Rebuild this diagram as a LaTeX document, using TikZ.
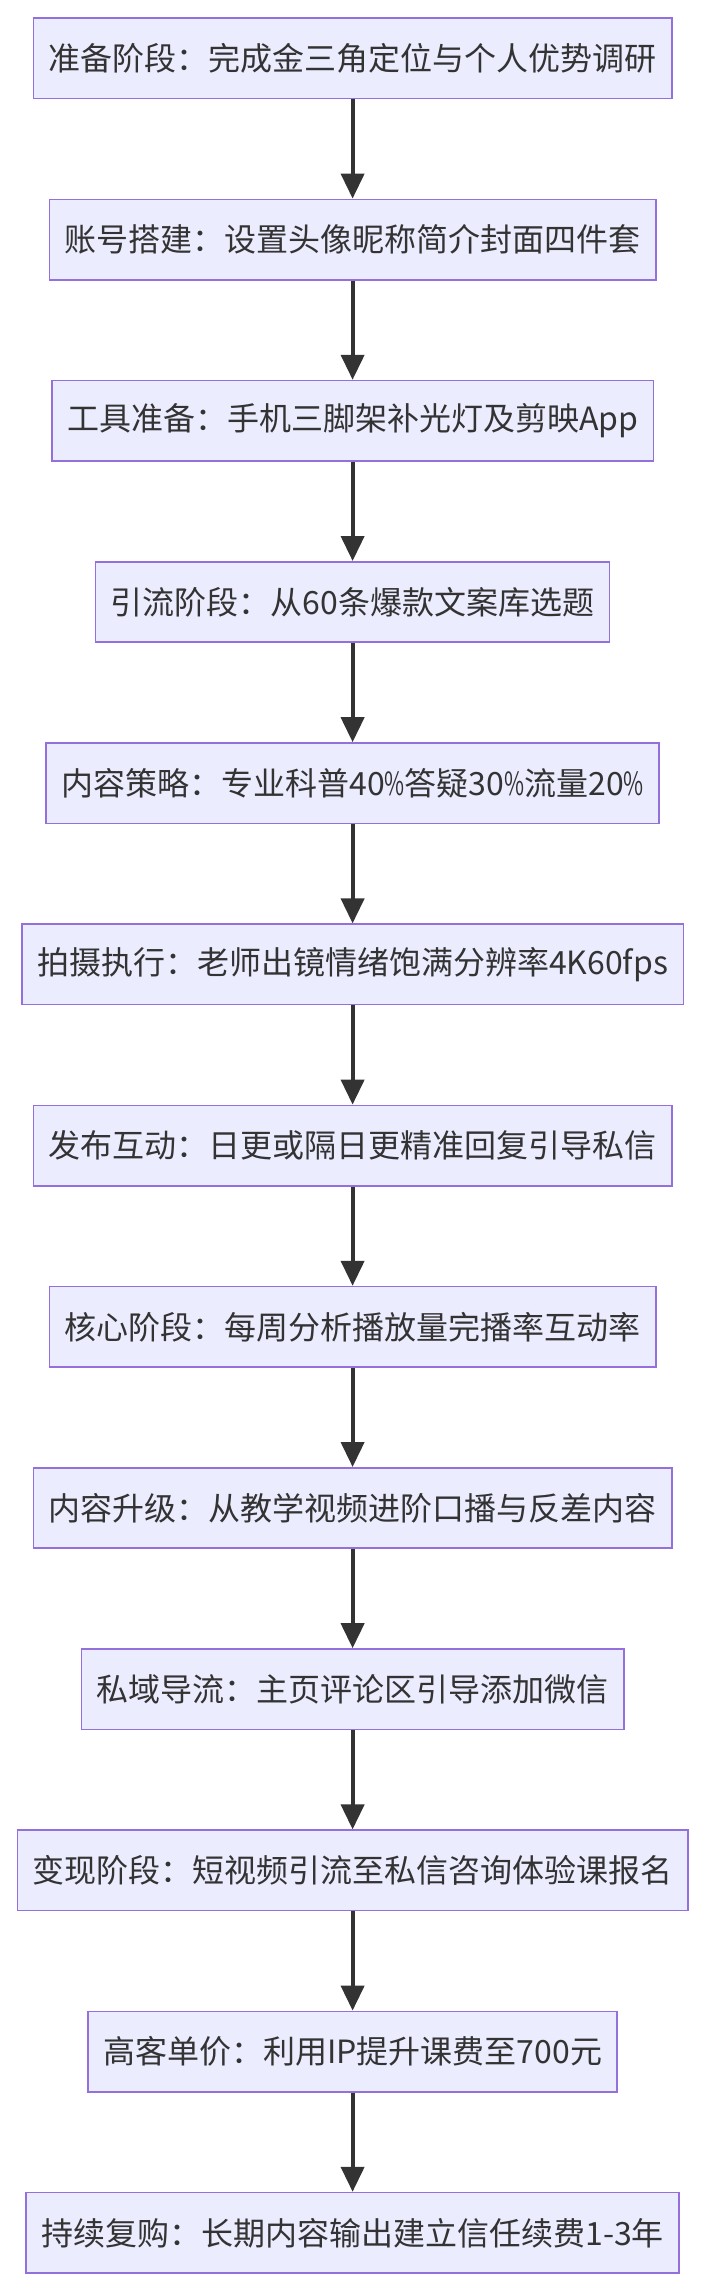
\documentclass[tikz,border=0pt]{standalone}
\usepackage{fontspec}
\setmainfont{Noto Sans CJK SC}
\usepackage{graphicx}
\usepackage{tikz}
\usetikzlibrary{arrows.meta, positioning}

\definecolor{boxfill}{HTML}{ECECFF}
\definecolor{boxline}{HTML}{9370DB}
\definecolor{ink}{HTML}{333333}
\newcommand{\pct}{\scalebox{0.68}[1]{\%}}

\begin{document}
\begin{tikzpicture}[
      every node/.style={rectangle, draw=boxline, fill=boxfill, line width=0.8pt,
        minimum height=40.2pt, inner xsep=7.6pt, text=ink,
        font=\fontsize{16pt}{19pt}\selectfont},
      flow/.style={draw=ink, line width=2pt, -{Triangle[width=11.5pt, length=12.5pt]}},
      node distance=49.6pt
    ]
      \useasboundingbox (0,0) rectangle (352pt,-1145pt);

      \node[below=8.7pt of {(176.3pt,0)}, anchor=north] (prep) {准备阶段：完成金三角定位与个人优势调研};
      \node[below=of prep] (acct) {账号搭建：设置头像昵称简介封面四件套};
      \node[below=of acct] (tool) {工具准备：手机三脚架补光灯及剪映App};
      \node[below=of tool] (lead) {引流阶段：从60条爆款文案库选题};
      \node[below=of lead] (plan) {内容策略：专业科普40\pct 答疑30\pct 流量20\pct};
      \node[below=of plan] (shoot) {拍摄执行：老师出镜情绪饱满分辨率4K60fps};
      \node[below=of shoot] (post) {发布互动：日更或隔日更精准回复引导私信};
      \node[below=of post] (core) {核心阶段：每周分析播放量完播率互动率};
      \node[below=of core] (upgr) {内容升级：从教学视频进阶口播与反差内容};
      \node[below=of upgr] (priv) {私域导流：主页评论区引导添加微信};
      \node[below=of priv] (cash) {变现阶段：短视频引流至私信咨询体验课报名};
      \node[below=of cash] (price) {高客单价：利用IP提升课费至700元};
      \node[below=of price] (renew) {持续复购：长期内容输出建立信任续费1-3年};

      \draw[flow] (prep) -- (acct);
      \draw[flow] (acct) -- (tool);
      \draw[flow] (tool) -- (lead);
      \draw[flow] (lead) -- (plan);
      \draw[flow] (plan) -- (shoot);
      \draw[flow] (shoot) -- (post);
      \draw[flow] (post) -- (core);
      \draw[flow] (core) -- (upgr);
      \draw[flow] (upgr) -- (priv);
      \draw[flow] (priv) -- (cash);
      \draw[flow] (cash) -- (price);
      \draw[flow] (price) -- (renew);
    \end{tikzpicture}
\end{document}
